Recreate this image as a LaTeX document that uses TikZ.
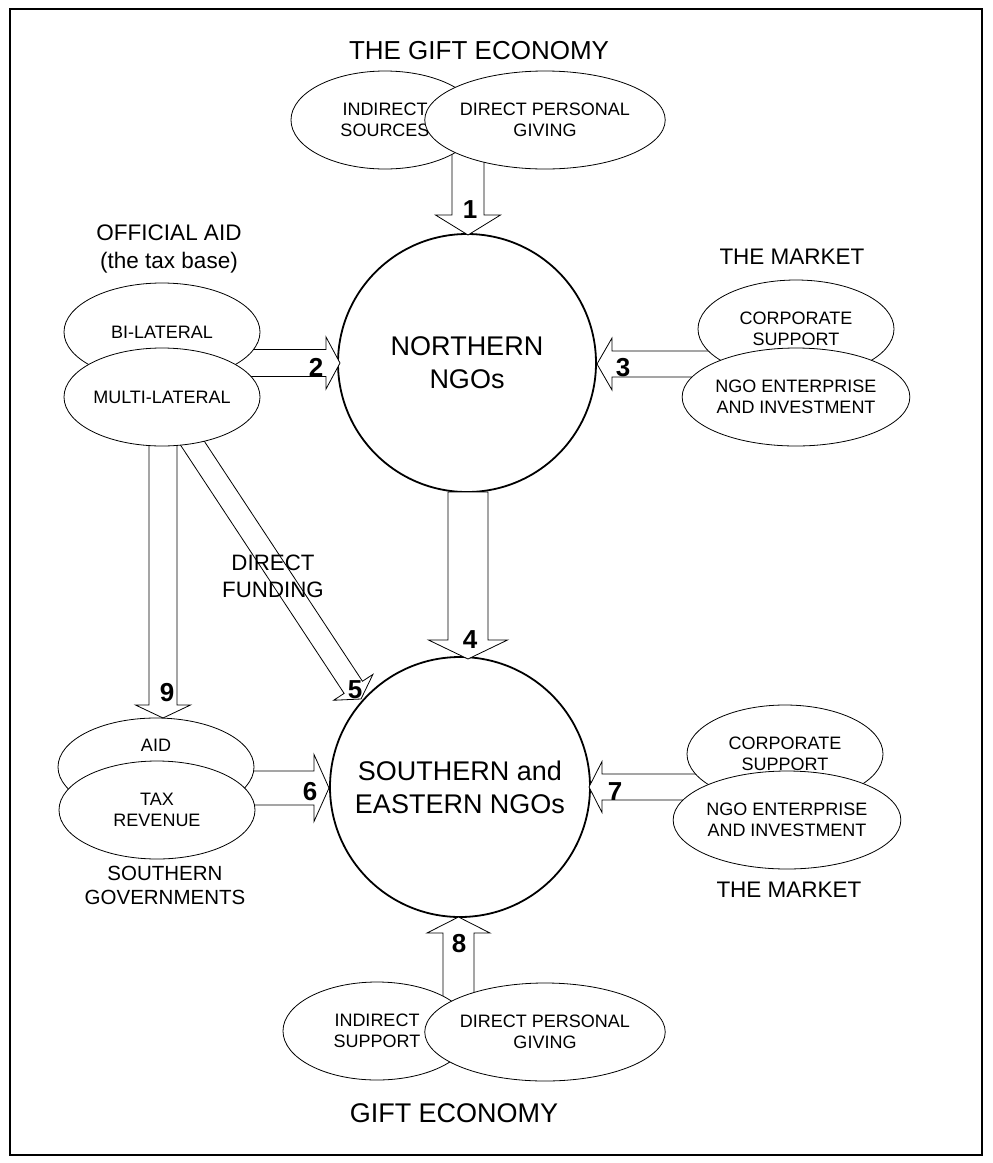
\documentclass[tikz,border=0pt]{standalone}
\usepackage{fontspec}
\setmainfont{Liberation Sans}
\usetikzlibrary{calc,shapes.geometric}
\tikzset{
  ell/.style={ellipse, draw, fill=white, line width=0.8pt, inner sep=0pt,
    minimum width=196pt, minimum height=98pt, align=center,
    font=\fontsize{18}{21.5}\selectfont},
  gell/.style={ell, minimum width=188pt},
  bigcirc/.style={circle, draw, fill=white, line width=1.8pt, inner sep=0pt,
    align=center, font=\fontsize{27}{33}\selectfont},
  barrow/.style={draw, fill=white, line width=0.8pt, line join=miter},
  lbl/.style={inner sep=0pt, align=center},
  numlbl/.style={inner sep=0pt, font=\fontsize{26}{26}\selectfont\bfseries},
}
% block arrow: from, to, half shaft width, half head width, head length
\newcommand{\blockarr}[5]{%
  \coordinate (ba-b) at ($(#2)!#5!(#1)$);
  \draw[barrow] ($(#1)!#3!90:(#2)$) -- ($(ba-b)!#3!-90:(#1)$)
    -- ($(ba-b)!#4!-90:(#1)$) -- (#2) -- ($(ba-b)!#4!90:(#1)$)
    -- ($(ba-b)!#3!90:(#1)$) -- ($(#1)!#3!-90:(#2)$) -- cycle;}
\begin{document}
\begin{tikzpicture}[x=1pt,y=-1pt]
\useasboundingbox (0,0) rectangle (993,1163);
\draw[line width=1.6pt] (10,9) rectangle (982,1155);

% main circles
\node[bigcirc, minimum size=258pt] (north) at (467,363) {NORTHERN\\NGOs};
\node[bigcirc, minimum size=260pt] (south) at (460,787) {SOUTHERN and\\EASTERN NGOs};

% arrow end points
\coordinate (a1s) at (468,120);  \coordinate (a1e) at (468,235);
\coordinate (a2s) at (170,363);  \coordinate (a2e) at (340,363);
\coordinate (a3s) at (796,364);  \coordinate (a3e) at (597,364);
\coordinate (a4s) at (468,492);  \coordinate (a4e) at (468,659);
\coordinate (a5s) at (162,397);  \coordinate (a5e) at (361,699);
\coordinate (a6s) at (160,788);  \coordinate (a6e) at (329,788);
\coordinate (a7s) at (786,787);  \coordinate (a7e) at (589,787);
\coordinate (a8s) at (458.5,1031); \coordinate (a8e) at (458.5,917);
\coordinate (a9s) at (163,397);  \coordinate (a9e) at (163,718);

\blockarr{a1s}{a1e}{16pt}{32.5pt}{20pt}
\blockarr{a2s}{a2e}{13.5pt}{26pt}{14pt}
\blockarr{a3s}{a3e}{13pt}{26pt}{15pt}
\blockarr{a4s}{a4e}{20pt}{39.5pt}{19pt}
\blockarr{a5s}{a5e}{11pt}{23.5pt}{14pt}
\blockarr{a6s}{a6e}{17pt}{33.5pt}{15pt}
\blockarr{a7s}{a7e}{13pt}{25.5pt}{13pt}
\blockarr{a8s}{a8e}{15.5pt}{31.5pt}{16pt}
\blockarr{a9s}{a9e}{14pt}{27.5pt}{13pt}

% source ellipses
\node[ell] (bil) at (162,332) {BI-LATERAL};
\node[ell] (mul) at (162,397) {MULTI-LATERAL};
\node[ell] (corp1) at (796,329) {CORPORATE\\SUPPORT};
\node[ell] (ngo1) at (796,397) {NGO ENTERPRISE\\AND INVESTMENT};
\node[ell] (aid) at (156,767) {};
\node[lbl, font=\fontsize{18}{21.5}\selectfont] (aidt) at (156,745) {AID};
\node[ell] (tax) at (157,810) {TAX\\REVENUE};
\node[ell] (corp2) at (785,754) {CORPORATE\\SUPPORT};
\node[ell] (ngo2) at (787,820) {NGO ENTERPRISE\\AND INVESTMENT};
\node[gell] (ind1) at (385,120) {INDIRECT\\SOURCES};
\node[gell] (dir1) at (545,120) {DIRECT PERSONAL\\GIVING};
\node[gell] (ind2) at (377,1031) {INDIRECT\\SUPPORT};
\node[gell] (dir2) at (545,1032) {DIRECT PERSONAL\\GIVING};

% group labels
\node[lbl, font=\fontsize{26}{30}\selectfont] (tgift) at (479,51) {THE GIFT ECONOMY};
\node[lbl, font=\fontsize{22.5}{28}\selectfont] (toff) at (169,249) {OFFICIAL AID\\(the tax base)};
\node[lbl, font=\fontsize{22.5}{28}\selectfont] (tmkt1) at (792,257) {THE MARKET};
\node[lbl, font=\fontsize{22.3}{27}\selectfont] (tdir) at (273,576) {DIRECT\\FUNDING};
\node[lbl, font=\fontsize{20.5}{24}\selectfont] (tgov) at (165,885) {SOUTHERN\\GOVERNMENTS};
\node[lbl, font=\fontsize{22.5}{28}\selectfont] (tmkt2) at (789,890) {THE MARKET};
\node[lbl, font=\fontsize{27}{30}\selectfont] (tgift2) at (454,1113) {GIFT ECONOMY};

% numbers
\node[numlbl] (n1) at (470,210) {1};
\node[numlbl] (n2) at (316,367) {2};
\node[numlbl] (n3) at (623,368) {3};
\node[numlbl] (n4) at (470,640) {4};
\node[numlbl] (n5) at (355,690) {5};
\node[numlbl] (n6) at (310,792) {6};
\node[numlbl] (n7) at (615,792) {7};
\node[numlbl] (n8) at (459,944) {8};
\node[numlbl] (n9) at (167,693) {9};
\end{tikzpicture}
\end{document}
